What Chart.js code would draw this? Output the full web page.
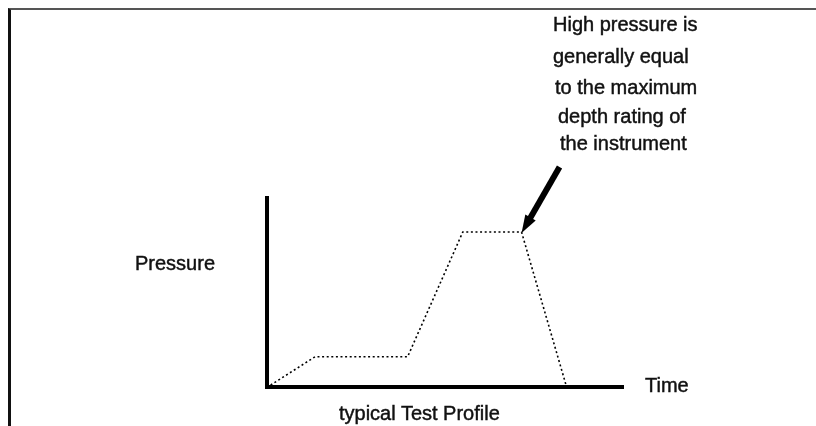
<!DOCTYPE html>
<html>
<head>
<meta charset="utf-8">
<script src="https://cdn.jsdelivr.net/npm/chart.js@4/dist/chart.umd.min.js"></script>
<style>
  html, body { margin: 0; padding: 0; background: #fff; }
  #wrap { position: relative; width: 816px; height: 426px; overflow: hidden; }
  #frame {
    position: absolute; left: 8px; top: 8px; right: -10px; bottom: -10px;
    border-top: 2px solid #555; border-left: 3px solid #111;
  }
  canvas { position: absolute; left: 0; top: 0; }
  .lbl {
    position: absolute; font-family: "Liberation Sans", Arial, sans-serif;
    font-size: 20px; line-height: 20px; color: #111; white-space: nowrap;
    -webkit-text-stroke: 0.45px #111;
  }
</style>
</head>
<body>
<div id="wrap">
  <div id="frame"></div>
  <canvas id="profileChart" width="816" height="426"></canvas>
  <div class="lbl" style="left:553px;top:14px">High pressure is</div>
  <div class="lbl" style="left:553px;top:46px">generally equal</div>
  <div class="lbl" style="left:555px;top:77px">to the maximum</div>
  <div class="lbl" style="left:558px;top:106px">depth rating of</div>
  <div class="lbl" style="left:560px;top:133px">the instrument</div>
  <div class="lbl" style="left:135px;top:253px">Pressure</div>
  <div class="lbl" style="left:645px;top:375px">Time</div>
  <div class="lbl" style="left:339px;top:403px">typical Test Profile</div>
</div>
<script>
// test profile: time vs pressure (arbitrary units)
const timeValues = [1, 13.5, 39.5, 55, 71.5, 84];
const pressureValues = [1, 16, 16, 82, 82, 1];
const peakIndex = 4; // end of the high pressure hold, where the arrow points

// arrow pointing at the end of the high pressure plateau
const arrowPlugin = {
  id: "arrow",
  afterDatasetsDraw(chart) {
    const pt = chart.getDatasetMeta(0).data[peakIndex];
    if (!pt) return;
    const ctx = chart.ctx;
    const tipX = pt.x, tipY = pt.y + 1;
    const tailX = tipX + 38, tailY = tipY - 66;
    const ang = Math.atan2(tipY - tailY, tipX - tailX);
    const headLen = 18, headW = 6;
    const baseX = tipX - Math.cos(ang) * headLen;
    const baseY = tipY - Math.sin(ang) * headLen;
    ctx.save();
    ctx.strokeStyle = "#000";
    ctx.fillStyle = "#000";
    ctx.lineWidth = 6;
    ctx.lineCap = "butt";
    ctx.beginPath();
    ctx.moveTo(tailX, tailY);
    ctx.lineTo(baseX + Math.cos(ang) * 2, baseY + Math.sin(ang) * 2);
    ctx.stroke();
    ctx.beginPath();
    ctx.moveTo(tipX, tipY);
    ctx.lineTo(baseX + Math.sin(ang) * headW, baseY - Math.cos(ang) * headW);
    ctx.lineTo(baseX - Math.sin(ang) * headW, baseY + Math.cos(ang) * headW);
    ctx.closePath();
    ctx.fill();
    ctx.restore();
  },
};

const ctx = document.getElementById("profileChart");
new Chart(ctx, {
  type: "line",
  data: {
    datasets: [
      {
        data: timeValues.map((t, i) => ({ x: t, y: pressureValues[i] })),
        borderColor: "#000",
        borderWidth: 1.6,
        borderDash: [2, 2.6],
        pointRadius: 0,
        tension: 0,
        fill: false,
      },
    ],
  },
  options: {
    responsive: false,
    animation: false,
    devicePixelRatio: 1,
    layout: { padding: { left: 267, top: 198, right: 193, bottom: 39 } },
    scales: {
      x: {
        type: "linear",
        min: 0,
        max: 100,
        ticks: { display: false },
        grid: { display: false, drawTicks: false },
        border: { display: true, width: 4, color: "#000" },
      },
      y: {
        min: 0,
        max: 100,
        ticks: { display: false },
        grid: { display: false, drawTicks: false },
        border: { display: true, width: 4, color: "#000" },
      },
    },
    plugins: {
      legend: { display: false },
      tooltip: { enabled: false },
    },
  },
  plugins: [arrowPlugin],
});
</script>
</body>
</html>
